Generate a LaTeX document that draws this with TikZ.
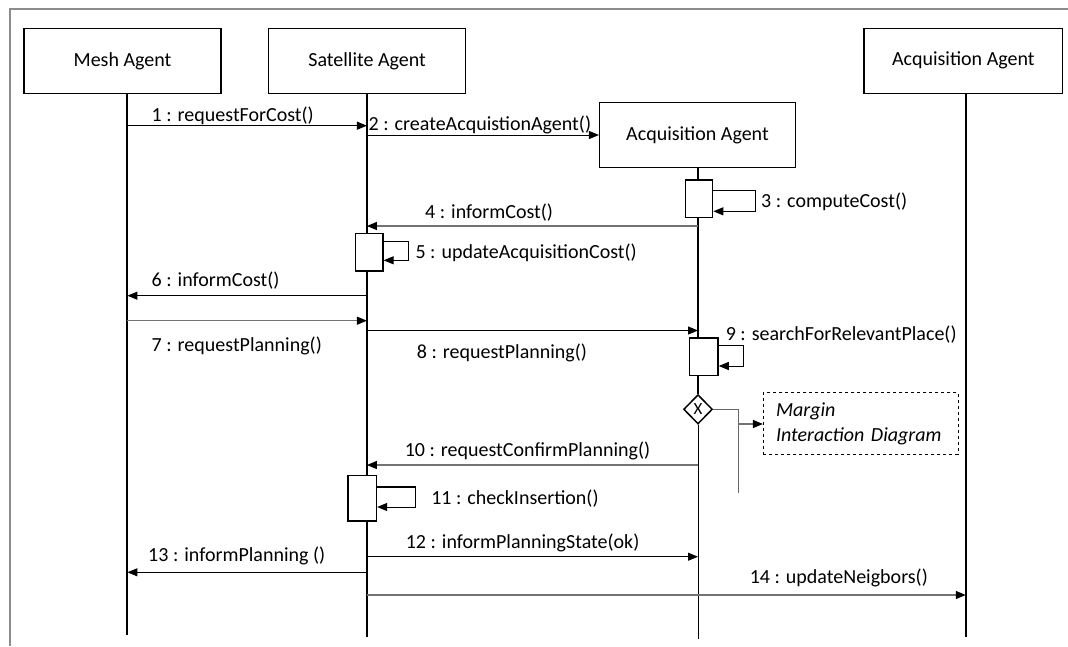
\documentclass[tikz,border=0pt]{standalone}
\usepackage{fontspec}
\setmainfont{Carlito}
\usetikzlibrary{arrows.meta,shapes.geometric}
\begin{document}
\begin{tikzpicture}[x=1pt,y=-1pt,
  every node/.style={font=\fontsize{20}{24}\selectfont},
  agent/.style={draw,line width=1.5pt,fill=white,minimum height=65pt,inner sep=0pt},
  life/.style={line width=2pt},
  thinlife/.style={line width=1pt},
  act/.style={draw,line width=1.5pt,fill=white,inner sep=0pt},
  msg/.style={line width=1pt,-{Triangle[length=10pt,width=8pt,color=black]}},
  gmsg/.style={msg,draw=black!55,line width=1.3pt},
  gline/.style={line width=1.2pt,draw=black!60},
  lbl/.style={anchor=base west,inner sep=0pt},
]
\useasboundingbox (0,0) rectangle (1068,646);
% frame
\draw[draw=black!45,line width=2pt] (10,646) -- (10,9) -- (1068,9);

% agents
\node[agent,minimum width=197pt] (mesh) at (122.5,60.8) {Mesh Agent};
\node[agent,minimum width=197pt] (sat) at (367.1,60.8) {Satellite Agent};
\node[agent,minimum width=195.6pt,minimum height=64.6pt] (acq) at (697.5,135) {Acquisition Agent};
\node[agent,minimum width=198.6pt] (racq) at (963.3,60.8) {Acquisition Agent};

% lifeline ends
\coordinate (m0) at (127.4,93.3);
\coordinate (m1) at (127.4,635);
\coordinate (s0) at (366.9,93.3);
\coordinate (s1) at (366.9,637.3);
\coordinate (a0) at (698,167.3);
\coordinate (a1) at (698,639.3);
\coordinate (r0) at (965.8,93.3);
\coordinate (r1) at (965.8,637.3);

% decision
\node[diamond,draw,line width=1.5pt,fill=white,minimum width=28.8pt,minimum height=29.4pt,inner sep=0pt,font=\fontsize{17}{20}\selectfont] (dec) at (698,409.3) {X};

% lifelines
\draw[life] (m0) -- (m1);
\draw[life] (s0) -- (s1);
\draw[life] (r0) -- (r1);
\draw[life] (a0) -- (dec.north);
\draw[thinlife] (dec.south) -- (a1);

% activations
\node[act,minimum width=27.1pt,minimum height=37.7pt] (act3) at (699.05,198.85) {};
\node[act,minimum width=27.2pt,minimum height=37.7pt] (act5) at (369.3,252.15) {};
\node[act,minimum width=28.4pt,minimum height=37.3pt] (act9) at (703.8,356.65) {};
\node[act,minimum width=28.6pt,minimum height=45.3pt] (act11) at (362.1,498.35) {};

% note
\node[draw,dashed,line width=1pt,minimum width=194.6pt,minimum height=61.6pt,text width=169.4pt,inner xsep=12.6pt,align=left,font=\fontsize{20}{25}\selectfont\itshape] (note) at (860.7,423.5) {Margin\\Interaction Diagram};

% messages
\draw[msg] (m0 |- 0,125.7) -- (s0 |- 0,125.7);
\node[lbl] (l1) at (151.5,121) {1 : requestForCost()};

\draw[msg] (s0 |- acq.west) -- (acq.west);
\node[lbl] (l2) at (368.5,130.5) {2 : createAcquistionAgent()};

\draw[msg] (act3.east |- 0,190.7) -- ++(42.2,0) -- ++(0,20.6) -- (act3.east |- 0,211.3);
\node[lbl] (l3) at (761,207.3) {3 : computeCost()};

\draw[gmsg] (a0 |- 0,226) -- (s0 |- 0,226);
\node[lbl] (l4) at (425,218.3) {4 : informCost()};

\draw[msg] (act5.east |- 0,241) -- (408.4,241) -- (408.4,260.3) -- (act5.east |- 0,260.3);
\node[lbl] (l5) at (415.3,258.3) {5 : updateAcquisitionCost()};

\draw[msg] (s0 |- 0,295.7) -- (m0 |- 0,295.7);
\node[lbl] (l6) at (151.5,286.7) {6 : informCost()};

\draw[gmsg] (m0 |- 0,320.7) -- (s0 |- 0,320.7);
\node[lbl] (l7) at (151.5,351.7) {7 : requestPlanning()};

\draw[msg] (s0 |- 0,330.5) -- (a0 |- 0,330.5);
\node[lbl] (l8) at (416.7,358.3) {8 : requestPlanning()};

\draw[msg] (act9.east |- 0,345.7) -- (743.5,345.7) -- (743.5,366) -- (act9.east |- 0,366);
\node[lbl] (l9) at (725.6,340.7) {9 : searchForRelevantPlace()};

\coordinate (bk) at (738.3,409.3);
\coordinate (bj) at (738.3,424);
\coordinate (be) at (738.3,492.7);
\draw[gline] (dec.east) -- (bk) -- (be);
\draw[gmsg] (bj) -- (note.west |- bj);

\draw[gmsg] (a0 |- 0,465) -- (s0 |- 0,465);
\node[lbl] (l10) at (404.6,456.7) {10 : requestConfirmPlanning()};

\draw[line width=2pt] (act11.east |- 0,486.7) -- (415.6,486.7);
\draw[msg] (415.6,486.7) -- (415.6,507) -- (act11.east |- 0,507);
\node[lbl] (l11) at (431.1,504) {11 : checkInsertion()};

\draw[msg] (s0 |- 0,556.7) -- (a0 |- 0,556.7);
\node[lbl] (l12) at (405.6,548.3) {12 : informPlanningState(ok)};

\draw[msg] (s0 |- 0,572.3) -- (m0 |- 0,572.3);
\node[lbl] (l13) at (148,561.7) {13 : informPlanning ()};

\draw[gmsg] (s0 |- 0,595) -- (r0 |- 0,595);
\node[lbl] (l14) at (749.6,583.3) {14 : updateNeigbors()};
\end{tikzpicture}
\end{document}
